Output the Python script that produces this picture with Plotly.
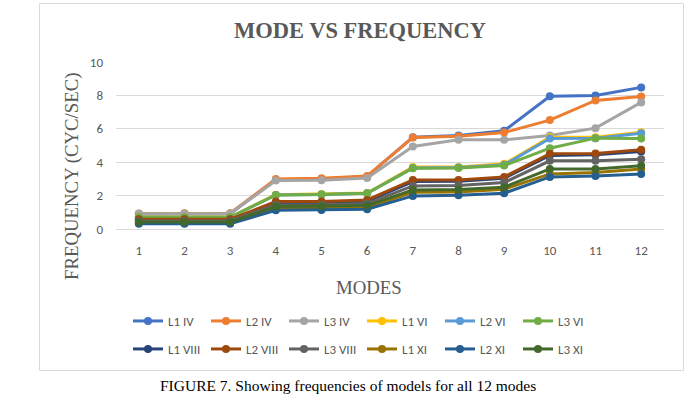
import plotly.graph_objects as go

modes = ["1", "2", "3", "4", "5", "6", "7", "8", "9", "10", "11", "12"]

L1_IV = [0.90, 0.92, 0.92, 2.95, 3.00, 3.15, 5.50, 5.60, 5.88, 7.95, 8.00, 8.48]
L2_IV = [0.93, 0.95, 0.95, 3.00, 3.04, 3.18, 5.48, 5.55, 5.78, 6.52, 7.70, 7.94]
L3_IV = [0.92, 0.92, 0.93, 2.90, 2.92, 3.06, 4.94, 5.34, 5.34, 5.60, 6.04, 7.58]
L1_VI = [0.72, 0.72, 0.72, 2.05, 2.10, 2.16, 3.72, 3.72, 3.90, 5.50, 5.50, 5.80]
L2_VI = [0.70, 0.70, 0.70, 2.04, 2.06, 2.14, 3.66, 3.68, 3.84, 5.42, 5.44, 5.74]
L3_VI = [0.70, 0.70, 0.70, 2.04, 2.06, 2.14, 3.64, 3.66, 3.80, 4.84, 5.44, 5.42]
L1_VIII = [0.55, 0.55, 0.55, 1.56, 1.58, 1.66, 2.84, 2.86, 3.04, 4.40, 4.44, 4.64]
L2_VIII = [0.58, 0.58, 0.58, 1.64, 1.64, 1.74, 2.94, 2.94, 3.12, 4.50, 4.52, 4.74]
L3_VIII = [0.48, 0.48, 0.48, 1.44, 1.44, 1.52, 2.58, 2.60, 2.78, 4.08, 4.08, 4.18]
L1_XI = [0.38, 0.38, 0.38, 1.24, 1.26, 1.30, 2.20, 2.22, 2.38, 3.30, 3.38, 3.60]
L2_XI = [0.32, 0.32, 0.32, 1.12, 1.14, 1.18, 1.98, 2.02, 2.14, 3.12, 3.18, 3.30]
L3_XI = [0.42, 0.42, 0.42, 1.34, 1.36, 1.40, 2.34, 2.36, 2.50, 3.60, 3.60, 3.78]

series_names = ["L1 IV", "L2 IV", "L3 IV", "L1 VI", "L2 VI", "L3 VI",
                "L1 VIII", "L2 VIII", "L3 VIII", "L1 XI", "L2 XI", "L3 XI"]
series_values = [L1_IV, L2_IV, L3_IV, L1_VI, L2_VI, L3_VI,
                 L1_VIII, L2_VIII, L3_VIII, L1_XI, L2_XI, L3_XI]
colors = ["#4472C4", "#ED7D31", "#A5A5A5", "#FFC000", "#5B9BD5", "#70AD47",
          "#264478", "#9E480E", "#636363", "#997300", "#255E91", "#43682B"]

fig = go.Figure()
for i, (name, vals, col) in enumerate(zip(series_names, series_values, colors)):
    fig.add_trace(go.Scatter(
        x=modes, y=vals, name=name, mode="lines+markers",
        line=dict(color=col, width=3),
        marker=dict(color=col, size=8),
        legend="legend" if i < 6 else "legend2",
    ))

# pixel geometry helpers
L, R, T, B = 116, 29, 62, 170
W, H = 693, 399
pw, ph = W - L - R, H - T - B

def px(x):
    return (x - L) / pw

def py(y):
    return (H - B - y) / ph

serif = "Times New Roman, Liberation Serif, serif"
sans = "Calibri, Carlito, Liberation Sans, Arial, sans-serif"
grey = "#595959"

leg_common = dict(orientation="h", xanchor="left", yanchor="middle",
                  font=dict(family=sans, size=13, color=grey),
                  bgcolor="rgba(0,0,0,0)", entrywidth=33, entrywidthmode="pixels",
                  itemwidth=30, traceorder="normal")

fig.update_layout(
    width=W, height=H,
    margin=dict(l=L, r=R, t=T, b=B),
    paper_bgcolor="white", plot_bgcolor="white",
    showlegend=True,
    legend=dict(x=px(128), y=py(321), **leg_common),
    legend2=dict(x=px(128), y=py(349), **leg_common),
    xaxis=dict(type="category", range=[-0.5, 11.5], showgrid=False,
               showline=False, zeroline=False, ticks="",
               tickfont=dict(family=sans, size=13, color=grey),
               ticklabelstandoff=12),
    yaxis=dict(range=[0, 10], dtick=2, showgrid=True, gridcolor="#D9D9D9",
               gridwidth=1, zeroline=True, zerolinecolor="#D9D9D9", zerolinewidth=1,
               showline=False, ticks="",
               tickfont=dict(family=sans, size=13, color=grey),
               ticklabelstandoff=12),
    annotations=[
        dict(text="<b>MODE VS FREQUENCY</b>", x=px(360), y=py(30), xref="paper", yref="paper",
             showarrow=False, xanchor="center", yanchor="middle",
             font=dict(family=serif, size=22.5, color=grey)),
        dict(text="FREQUENCY (CYC/SEC)", x=px(72), y=py(177), xref="paper", yref="paper",
             showarrow=False, xanchor="center", yanchor="middle", textangle=-90,
             font=dict(family=serif, size=18.8, color=grey)),
        dict(text="MODES", x=px(369), y=py(287), xref="paper", yref="paper",
             showarrow=False, xanchor="center", yanchor="middle",
             font=dict(family=serif, size=18.8, color=grey)),
        dict(text="FIGURE 7. Showing frequencies of models for all 12 modes",
             x=px(348), y=py(385), xref="paper", yref="paper",
             showarrow=False, xanchor="center", yanchor="middle",
             font=dict(family=serif, size=15.5, color="black")),
    ],
    shapes=[
        dict(type="rect", xref="paper", yref="paper",
             x0=px(39.5), x1=px(683.5), y0=py(370.5), y1=py(3.5),
             line=dict(color="#D9D9D9", width=1), fillcolor="rgba(0,0,0,0)",
             layer="below"),
    ],
)

fig.write_html("out.html", config={"displayModeBar": False},
               post_script="document.body.style.margin='0';")
